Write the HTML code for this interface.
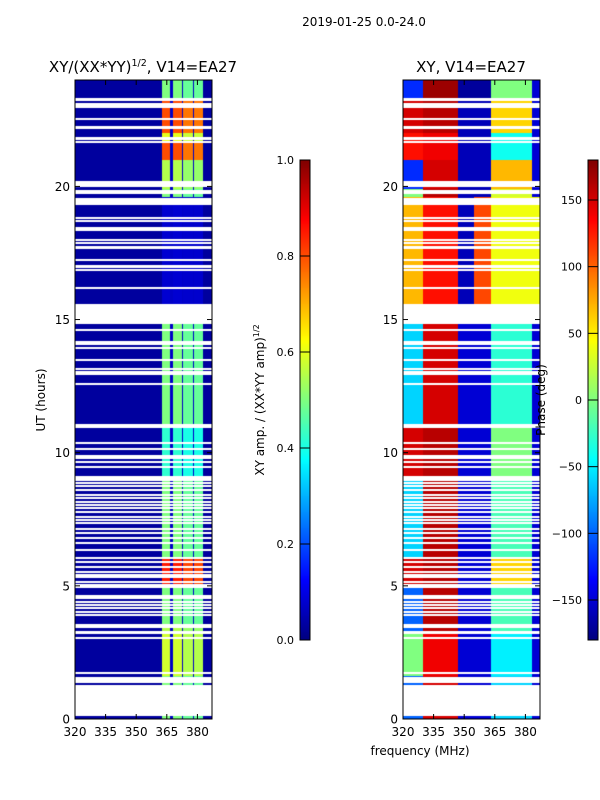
<!DOCTYPE html>
<html><head><meta charset="utf-8">
<style>
body{margin:0;background:#fff;}
#root{position:relative;width:600px;height:800px;overflow:hidden;background:#fff;font-family:"DejaVu Sans","Liberation Sans",sans-serif;}
canvas{position:absolute;}
svg{position:absolute;left:0;top:0;}
text{font-family:"DejaVu Sans","Liberation Sans",sans-serif;fill:#000;}
</style></head>
<body>
<div id="root">
<canvas id="ampCanvas" width="137" height="639" style="left:75px;top:80px"></canvas>
<canvas id="phaseCanvas" width="137" height="639" style="left:403px;top:80px"></canvas>
<canvas id="cb1" width="10" height="480" style="left:300px;top:160px"></canvas>
<canvas id="cb2" width="10" height="480" style="left:588px;top:160px"></canvas>
<svg id="overlay" width="600" height="800">
<text x="364" y="26" text-anchor="middle" font-size="12">2019-01-25 0.0-24.0</text>
<text x="143" y="72" text-anchor="middle" font-size="15">XY/(XX*YY)<tspan font-size="9.5" dy="-6">1/2</tspan><tspan dy="6">, V14=EA27</tspan></text>
<text x="471" y="72" text-anchor="middle" font-size="15">XY, V14=EA27</text>
<text transform="translate(45,400) rotate(-90)" text-anchor="middle" font-size="12">UT (hours)</text>
<text x="420" y="755" text-anchor="middle" font-size="12">frequency (MHz)</text>
<text transform="translate(264,400) rotate(-90)" text-anchor="middle" font-size="12">XY amp. / (XX*YY amp)<tspan font-size="8" dy="-5">1/2</tspan></text>
<text transform="translate(545,400) rotate(-90)" text-anchor="middle" font-size="12">Phase (deg)</text>
<g id="axesG"></g>
</svg>
</div>
<script>
// ---- data ----
const gapRanges = [[0.13,0.85],[1.03,1.26],[1.37,1.56],[3.21,3.32],[3.40,3.55],[5.99,6.10],[8.95,9.11],[9.78,9.93],[10.91,11.06],[14.85,15.60],[16.92,17.03],[17.66,17.75],[18.31,18.46],[19.32,19.58],[19.73,19.88],[19.96,20.19],[21.76,21.87],[22.17,22.25],[22.96,23.04],[23.07,23.15],[23.22,23.31]];
const gapLines = [0.90,0.98,1.73,3.04,3.91,4.02,4.17,4.28,4.39,4.54,4.62,4.96,5.03,5.14,5.33,5.41,5.52,5.71,5.90,6.35,6.61,6.80,6.98,7.13,7.36,7.47,7.59,7.77,7.92,8.04,8.15,8.30,8.41,8.60,8.75,8.86,9.46,9.65,10.14,10.36,12.58,12.96,13.03,13.14,13.48,13.93,14.08,14.16,14.61,16.18,16.86,17.24,17.87,17.99,18.70,18.81,21.67,22.53];
const ampSegStart = [0,1.6,3.3,3.5,5.0,6.0,9.1,11.0,15.6,19.6,19.9,21.0,21.7,22.0,23.3];
const ampSegLevel = [0.5,0.58,0.55,0.5,0.85,0.5,0.42,0.5,0.08,0.5,0.55,0.8,0.6,0.8,0.5];
const stripLo = [362.6,368.0,372.9,378.3];
const stripHi = [366.6,372.4,377.8,382.7];
const stripGain = [1.0,1.0,0.95,0.95];
const ampBackground = 0.03;
const ampBetween = 0.07;
const bandEdges = [320,330,347,355,363,383,390];
const phaseSegStart = [0,1.6,3.3,5.0,6.0,9.1,11.0,15.6,19.6,19.9,21.0,22.0,23.3];
const phaseSegValues = [
 [-100,150,-150,-150,-60,-150],
 [0,140,-150,-150,-50,-150],
 [-100,160,-150,-150,-20,-150],
 [150,160,-150,-150,60,-150],
 [-60,160,-150,-150,-20,-150],
 [150,160,-150,-150,0,-150],
 [-60,150,-150,-150,-30,-150],
 [70,130,-160,110,40,40],
 [0,160,-160,-160,30,-150],
 [-120,150,-160,-160,70,-150],
 [130,140,-160,-160,-40,-150],
 [150,160,-160,-160,60,-150],
 [-120,170,-170,-170,0,-150]];
const xTicks = [320,335,350,365,380];
const yTicks = [0,5,10,15,20];
const ampTicks = [0.0,0.2,0.4,0.6,0.8,1.0];
const phaseTicks = [-150,-100,-50,0,50,100,150];

// ---- scales ----
const AX_W=137, AX_H=639, TOP=80;
const F0=320, PXPERMHZ=30.6/15, PXPERH=26.63;
function xScale(f){return (f-F0)*PXPERMHZ;}
function yScale(h){return AX_H-h*PXPERH;}
function xInv(px){return F0+px/PXPERMHZ;}
function yInv(py){return (AX_H-py)/PXPERH;}
function jet(v){v=Math.max(0,Math.min(1,v));const c=t=>Math.round(255*Math.max(0,Math.min(1,1.5-Math.abs(4*v-t))));return [c(3),c(2),c(1)];}
function isGap(h){
  for(const g of gapRanges){if(h>=g[0]&&h<=g[1])return true;}
  for(const c of gapLines){if(Math.abs(h-c)<=0.028)return true;}
  return h>24;
}
function segIndex(starts,h){let k=0;for(let i=0;i<starts.length;i++){if(h>=starts[i])k=i;}return k;}
function ampAt(f,h){
  const lvl=ampSegLevel[segIndex(ampSegStart,h)];
  for(let i=0;i<stripLo.length;i++){if(f>=stripLo[i]&&f<=stripHi[i])return Math.max(ampBetween,lvl*stripGain[i]);}
  if(f>stripLo[0]&&f<stripHi[3])return ampBetween;
  return ampBackground;
}
function phaseAt(f,h){
  const row=phaseSegValues[segIndex(phaseSegStart,h)];
  for(let b=0;b<bandEdges.length-1;b++){if(f>=bandEdges[b]&&f<bandEdges[b+1])return row[b];}
  return row[row.length-1];
}
function drawHeat(id,fn,vmin,vmax){
  const ctx=document.getElementById(id).getContext('2d');
  const img=ctx.createImageData(AX_W,AX_H);
  for(let y=0;y<AX_H;y++){
    const h=yInv(y+0.5);
    const gap=isGap(h);
    for(let x=0;x<AX_W;x++){
      const o=(y*AX_W+x)*4;
      if(gap){img.data[o]=img.data[o+1]=img.data[o+2]=255;img.data[o+3]=255;continue;}
      const v=(fn(xInv(x+0.5),h)-vmin)/(vmax-vmin);
      const c=jet(v);img.data[o]=c[0];img.data[o+1]=c[1];img.data[o+2]=c[2];img.data[o+3]=255;
    }
  }
  ctx.putImageData(img,0,0);
}
drawHeat('ampCanvas',ampAt,0,1);
drawHeat('phaseCanvas',phaseAt,-180,180);
function drawCb(id){
  const ctx=document.getElementById(id).getContext('2d');
  for(let y=0;y<480;y++){const c=jet(1-(y+0.5)/480);ctx.fillStyle=`rgb(${c[0]},${c[1]},${c[2]})`;ctx.fillRect(0,y,10,1);}
}
drawCb('cb1');drawCb('cb2');

// ---- axes ----
const NS='http://www.w3.org/2000/svg';
const G=document.getElementById('axesG');
function mk(tag,attrs){const e=document.createElementNS(NS,tag);for(const k in attrs)e.setAttribute(k,attrs[k]);G.appendChild(e);return e;}
function axes(left,name){
  const fr=mk('rect',{x:left,y:TOP,width:AX_W,height:AX_H,fill:'none',stroke:'#000','stroke-width':1});
  
  
  for(const t of xTicks){
    const x=left+xScale(t);
    const l1=mk('line',{x1:x,x2:x,y1:TOP+AX_H,y2:TOP+AX_H-5,stroke:'#000'});
    
    
    const l2=mk('line',{x1:x,x2:x,y1:TOP,y2:TOP+5,stroke:'#000'});
    
    
    const tx=mk('text',{x:x,y:TOP+AX_H+17,'text-anchor':'middle','font-size':12});
    tx.textContent=String(t);
    
    
  }
  for(const t of yTicks){
    const y=TOP+yScale(t);
    const l1=mk('line',{x1:left,x2:left+5,y1:y,y2:y,stroke:'#000'});
    
    
    const l2=mk('line',{x1:left+AX_W,x2:left+AX_W-5,y1:y,y2:y,stroke:'#000'});
    
    
    const tx=mk('text',{x:left-5,y:y+4.5,'text-anchor':'end','font-size':12});
    tx.textContent=String(t);
    
    
  }
}
axes(75,'amp-axes');
axes(403,'phase-axes');
function cbAxis(left,ticks,vmin,vmax,name){
  const fr=mk('rect',{x:left,y:160,width:10,height:480,fill:'none',stroke:'#000','stroke-width':1});
  
  
  for(const t of ticks){
    const y=640-(t-vmin)/(vmax-vmin)*480;
    const l=mk('line',{x1:left,x2:left+10,y1:y,y2:y,stroke:'#000'});
    
    
    const tx=mk('text',{x:left-6,y:y+4,'text-anchor':'end','font-size':11});
    tx.textContent=(Math.abs(t)<1.001&&vmax<=1)?t.toFixed(1):String(t).replace('-','\u2212');
    
    
  }
}
cbAxis(300,ampTicks,0,1,'amp-colorbar');
cbAxis(588,phaseTicks,-180,180,'phase-colorbar');
</script>
</body></html>
